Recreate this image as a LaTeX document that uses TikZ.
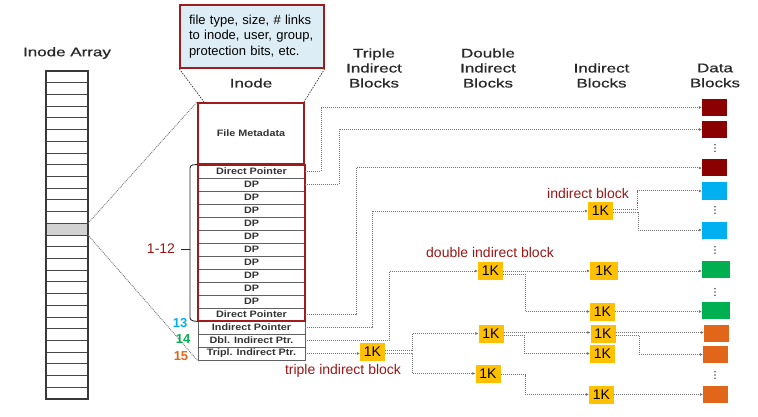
\documentclass[tikz,border=0pt]{standalone}
\usepackage{fontspec}
\setmainfont{Liberation Sans}
\newfontfamily\titlefont[FakeBold=0.6]{Liberation Sans}
\usetikzlibrary{arrows.meta}
\definecolor{dred}{RGB}{139,0,0}
\definecolor{lred}{RGB}{160,28,28}
\definecolor{ired}{RGB}{155,22,22}
\definecolor{cblue}{RGB}{0,176,240}
\definecolor{cgreen}{RGB}{0,176,80}
\definecolor{corange}{RGB}{226,102,26}
\definecolor{cyellow}{RGB}{255,192,0}
\definecolor{callfill}{RGB}{221,237,245}
\definecolor{conngray}{RGB}{115,115,115}
\definecolor{titlegray}{RGB}{40,40,40}
\newcommand{\wtxt}[1]{\scalebox{1.36}[1]{#1}}
\newcommand{\rtxt}[1]{\scalebox{1.16}[1]{#1}}
\begin{document}
\begin{tikzpicture}[x=1pt,y=-1pt,
  title/.style={font=\titlefont\fontsize{12.5}{15}\selectfont, align=center, inner sep=0pt, text=titlegray},
  rowbox/.style={draw=gray!75!black, line width=0.9pt, minimum width=107pt, minimum height=13pt, inner sep=0pt, font=\fontsize{9.3}{10}\selectfont\bfseries, text=black!80},
  kbox/.style={fill=cyellow, minimum width=25pt, minimum height=18pt, inner sep=0pt, font=\fontsize{14}{14}\selectfont},
  dblock/.style={minimum width=25pt, minimum height=17pt, inner sep=0pt},
  conn/.style={draw=conngray, densely dotted, line width=1pt, -{Latex[length=3pt,width=3pt]}},
  lbl/.style={text=ired, font=\fontsize{14}{14}\selectfont, inner sep=0pt},
  numlbl/.style={font=\fontsize{13}{13}\selectfont\bfseries, inner sep=0pt},
  guide/.style={draw=black!80, dash pattern=on 1.5pt off 1.2pt, line width=0.7pt}
]
\useasboundingbox (0,0) rectangle (758,417);

% titles
\node[title] (tArr) at (67,53) {\wtxt{Inode Array}};
\node[title] (tIn) at (251,83) {\wtxt{Inode}};
\node[title] (tTri) at (374,68) {\wtxt{Triple}\\\wtxt{Indirect}\\\wtxt{Blocks}};
\node[title] (tDbl) at (488,68) {\wtxt{Double}\\\wtxt{Indirect}\\\wtxt{Blocks}};
\node[title] (tInd) at (601.5,75.5) {\wtxt{Indirect}\\\wtxt{Blocks}};
\node[title] (tDat) at (715,75.5) {\wtxt{Data}\\\wtxt{Blocks}};

% inode array
\fill[gray!35] (46,223.3) rectangle (88,235.0);
\foreach \k in {1,...,27} \draw[gray!55!black, line width=0.9pt] (46,{71+11.714*\k}) -- (88,{71+11.714*\k});
\node[draw=gray!45!black, line width=1.3pt, minimum width=42pt, minimum height=328pt, inner sep=0pt] (arr) at (67,235) {};
\coordinate (gtop) at (88,223.3);
\coordinate (gbot) at (88,235.0);

% inode rows
\foreach \i/\t in {1/Direct Pointer,2/DP,3/DP,4/DP,5/DP,6/DP,7/DP,8/DP,9/DP,10/DP,11/DP,12/Direct Pointer,13/Indirect Pointer,14/Dbl. Indirect Ptr.,15/Tripl. Indirect Ptr.}
  \node[rowbox] (r\i) at (251.5,{158.5+13*\i}) {\rtxt{\t}};
\draw[lred, line width=2pt] (r1.north west) rectangle (r12.south east);
\node[draw=lred, line width=2pt, minimum width=106pt, minimum height=61pt, inner sep=0pt, font=\fontsize{9.3}{10}\selectfont\bfseries, text=black!80] (meta) at (251,133.5) {\rtxt{File Metadata}};

% callout
\node[draw=lred, fill=callfill, line width=1.5pt, text width=126pt, inner xsep=9pt, minimum height=63pt, align=left, font=\fontsize{13}{15.5}\selectfont] (call) at (252,36.5) {file type, size, \# links\\to inode, user, group,\\protection bits, etc.};
\draw[guide] (call.south west) -- ([xshift=7pt]meta.north west);
\draw[guide] (call.south east) -- ([xshift=-1pt]meta.north east);

% array to inode
\draw[conngray, densely dotted, line width=0.9pt] (gtop) -- (meta.north west);
\draw[conngray, densely dotted, line width=0.9pt] (gbot) -- (r15.south west);

% brace and numbers
\draw[black!85, line width=0.9pt, rounded corners=3pt] (r1.north west) -- (190,165) -- (190,320.5) -- (r12.south west);
\draw[black!85, line width=0.9pt] (181,249) -- (190,249);
\node[lbl] (n112) at (161,249) {1-12};
\node[numlbl, text=cblue] (n13) at (180,323) {13};
\node[numlbl, text=cgreen] (n14) at (183,339) {14};
\node[numlbl, text=corange] (n15) at (181,356) {15};

% data blocks
\node[dblock, fill=dred] (d1) at (714.5,107.5) {};
\node[dblock, fill=dred] (d2) at (714.5,129.5) {};
\node[dblock, fill=dred] (d3) at (714.5,168) {};
\node[dblock, fill=cblue] (b1) at (714.5,191) {};
\node[dblock, fill=cblue] (b2) at (714.5,230) {};
\node[dblock, fill=cgreen, minimum width=28pt] (g1) at (716,269.5) {};
\node[dblock, fill=cgreen, minimum width=28pt] (g2) at (716,310.5) {};
\node[dblock, fill=corange] (o1) at (716.5,333) {};
\node[dblock, fill=corange] (o2) at (715.5,354.5) {};
\node[dblock, fill=corange] (o3) at (715.5,394.5) {};
\foreach \y in {148,210,250,292,375}
  \foreach \d in {-3.3,0,3.3}
    \fill[gray!65!black] (715,\y+\d) circle (0.9);

% 1K blocks
\node[kbox] (ki) at (600.5,211) {1K};
\node[kbox] (kd) at (490.5,271) {1K};
\node[kbox, minimum width=28pt] (kdc1) at (604,271) {1K};
\node[kbox] (kdc2) at (602.5,311.5) {1K};
\node[kbox] (kt) at (372.5,351.5) {1K};
\node[kbox] (ktd1) at (491,333.5) {1K};
\node[kbox] (ktd2) at (488,373.5) {1K};
\node[kbox] (ktd1c1) at (603,333.5) {1K};
\node[kbox] (ktd1c2) at (602.5,353.5) {1K};
\node[kbox] (ktd2c1) at (601.5,394.5) {1K};

% labels
\node[lbl] (lind) at (588,193) {indirect block};
\node[lbl] (ldbl) at (490,252) {double indirect block};
\node[lbl] (ltri) at (343,371) {triple indirect block};

% connectors from inode
\draw[conn] (r1.east) -- ++(16,0) |- (d1.west);
\draw[conn] (r2.east) -- ++(34,0) |- (d2.west);
\draw[conn] (r12.east) -- ++(51,0) |- (d3.west);
\draw[conn] (r13.east) -- ++(67,0) |- (ki.west);
\draw[conn] (r14.east) -- ++(84,0) |- (kd.west);
\draw[conn] (r15.east) -- (r15.east -| kt.west);

% indirect block
\draw[conn] ([yshift=1.5pt]ki.east) -- ++(24,0) |- (b1.west);
\draw[conn] ([yshift=-1.5pt]ki.east) -- ++(25,0) |- (b2.west);

% double indirect block
\draw[conn] (kd.east) -- (kd.east -| kdc1.west);
\draw[conn] ([yshift=-3pt]kd.east) -- ++(22,0) |- (kdc2.west);
\draw[conn] (kdc1.east) -- (kdc1.east -| g1.west);
\draw[conn] (kdc2.east) -- (kdc2.east -| g2.west);

% triple indirect block
\draw[conn] ([yshift=1.5pt]kt.east) -- ++(27,0) |- (ktd1.west);
\draw[conn] ([yshift=-1.5pt]kt.east) -- ++(27,0) |- (ktd2.west);
\draw[conn] ([yshift=1pt]ktd1.east) -- ([yshift=1pt]ktd1.east -| ktd1c1.west);
\draw[conn] ([yshift=-2pt]ktd1.east) -- ++(21,0) |- (ktd1c2.west);
\draw[conn] ([yshift=-1pt]ktd2.east) -- ++(24.5,0) |- (ktd2c1.west);
\draw[conn] ([yshift=1pt]ktd1c1.east) -- ([yshift=1pt]ktd1c1.east -| o1.west);
\draw[conn] ([yshift=-2pt]ktd1c1.east) -- ++(23.5,0) |- (o2.west);
\draw[conn] (ktd2c1.east) -- (ktd2c1.east -| o3.west);
\end{tikzpicture}
\end{document}
